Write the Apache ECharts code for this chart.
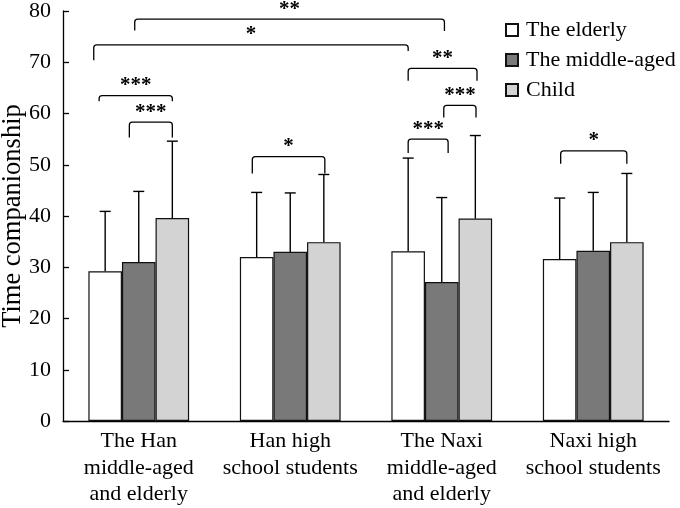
<!DOCTYPE html>
<html><head><meta charset="utf-8">
<script src="https://cdn.jsdelivr.net/npm/echarts@6/dist/echarts.min.js"></script>
<style>html,body{margin:0;padding:0;background:#fff}#c{width:680px;height:508px}</style>
</head><body><div id="c"></div>
<script>
const categories = ['The Han\nmiddle-aged\nand elderly', 'Han high\nschool students', 'The Naxi\nmiddle-aged\nand elderly', 'Naxi high\nschool students'];
const seriesNames = ['The elderly', 'The middle-aged', 'Child'];
const elderlyMean = [29.2, 32.0, 33.1, 31.6];
const middleMean = [31.0, 33.0, 27.1, 33.2];
const childMean = [39.6, 34.9, 39.5, 34.9];
const elderlyUpper = [40.9, 44.6, 51.3, 43.5];
const middleUpper = [44.8, 44.5, 43.6, 44.6];
const childUpper = [54.6, 48.1, 55.7, 48.3];
const yMin = 0, yMax = 80, yStep = 10;
// significance brackets: [fromGroup, fromBar, toGroup, toBar, yTop, yLeftEnd, yRightEnd, label]
const brackets = [
  [0, 0.88, 2, 1.08, 78.4, 76.2, 76.1, '**'],
  [0, -0.34, 2, 0.0, 73.4, 70.4, 72.2, '*'],
  [0, -0.18, 0, 2.0, 63.5, 62.4, 62.4, '***'],
  [0, 0.72, 0, 2.0, 58.3, 55.3, 55.3, '***'],
  [1, -0.13, 1, 2.03, 51.6, 48.3, 48.3, '*'],
  [2, 0.0, 2, 2.05, 68.8, 66.4, 66.4, '**'],
  [2, 1.06, 2, 2.02, 61.6, 59.2, 59.2, '***'],
  [2, 0.0, 2, 1.19, 55.0, 52.3, 52.3, '***'],
  [3, 0.03, 3, 2.0, 52.7, 50.2, 50.2, '*']
];

const FONT = 'Liberation Serif';
const colors = ['#ffffff', '#797979', '#d3d3d3'];
const GAP = 0.335;
const means = [elderlyMean, middleMean, childMean];
const uppers = [elderlyUpper, middleUpper, childUpper];

function barX(api, cat, bi) {
  const band = api.size([1, 0])[0];
  const bw = band * (1 - GAP) / 3;
  return api.coord([cat, 0])[0] + (bi - 1) * bw;
}

const errData = [];
for (let s = 0; s < 3; s++) for (let c = 0; c < categories.length; c++) errData.push([c, s, means[s][c], uppers[s][c]]);

const chart = echarts.init(document.getElementById('c'), null, {renderer: 'canvas'});
const barSeries = seriesNames.map((n, i) => ({
  name: n, type: 'bar', data: means[i], barGap: '0%', barCategoryGap: (GAP * 100) + '%',
  itemStyle: {color: colors[i], borderColor: '#111', borderWidth: 1.2},
  emphasis: {disabled: true}
}));

const option = {
  animation: false,
  textStyle: {fontFamily: FONT},
  grid: {left: 63, right: 11, top: 11, bottom: 87, containLabel: false, outerBoundsMode: 'none'},
  legend: {
    orient: 'vertical', left: 500, top: 14, itemWidth: 12, itemHeight: 12, itemGap: 8,
    icon: 'rect', data: seriesNames,
    textStyle: {fontFamily: FONT, fontSize: 22, color: '#000', padding: [0, 0, 0, 3]}
  },
  xAxis: {
    type: 'category', data: categories,
    axisLine: {lineStyle: {color: '#000', width: 1.3}},
    axisTick: {inside: true, length: 5, lineStyle: {color: '#000', width: 1.3}},
    axisLabel: {fontFamily: FONT, fontSize: 22, color: '#000', lineHeight: 26.5, margin: 7, interval: 0}
  },
  yAxis: {
    type: 'value', min: yMin, max: yMax, interval: yStep,
    name: 'Time companionship', nameLocation: 'middle', nameGap: 36, nameMoveOverlap: false,
    nameTextStyle: {fontFamily: FONT, fontSize: 26.5, color: '#000'},
    splitLine: {show: false},
    axisLine: {show: true, lineStyle: {color: '#000', width: 1.3}},
    axisTick: {show: true, inside: true, length: 6, lineStyle: {color: '#000', width: 1.3}},
    axisLabel: {fontFamily: FONT, fontSize: 22, color: '#000', margin: 12}
  },
  series: barSeries.concat([
    {
      type: 'custom', name: 'err', data: errData, encode: {x: 0, y: 3}, z: 3, silent: true,
      renderItem(params, api) {
        const cx = barX(api, api.value(0), api.value(1));
        const yb = api.coord([api.value(0), api.value(2)])[1];
        const yt = api.coord([api.value(0), api.value(3)])[1];
        const st = {stroke: '#000', lineWidth: 1.4};
        return {type: 'group', children: [
          {type: 'line', shape: {x1: cx, y1: yb, x2: cx, y2: yt}, style: st},
          {type: 'line', shape: {x1: cx - 5.5, y1: yt, x2: cx + 5.5, y2: yt}, style: st}
        ]};
      }
    },
    {
      type: 'custom', name: 'sig', data: brackets.map(b => [b[0], b[4]]), encode: {x: 0, y: 1}, z: 4, silent: true,
      renderItem(params, api) {
        const b = brackets[params.dataIndex];
        const x1 = barX(api, b[0], b[1]);
        const x2 = barX(api, b[2], b[3]);
        const yt = api.coord([b[0], b[4]])[1];
        const yl = api.coord([b[0], b[5]])[1];
        const yr = api.coord([b[0], b[6]])[1];
        const r = 3;
        const d = `M${x1} ${yl} L${x1} ${yt + r} Q${x1} ${yt} ${x1 + r} ${yt} L${x2 - r} ${yt} Q${x2} ${yt} ${x2} ${yt + r} L${x2} ${yr}`;
        return {type: 'group', children: [
          {type: 'path', shape: {pathData: d}, style: {stroke: '#000', lineWidth: 1.3, fill: null}},
          {type: 'text', style: {text: b[7], x: (x1 + x2) / 2, y: yt - 10, align: 'center', verticalAlign: 'middle',
            font: 'bold 21px "Liberation Serif"', fill: '#000'}}
        ]};
      }
    }
  ])
};
chart.setOption(option);
</script>
</body></html>
